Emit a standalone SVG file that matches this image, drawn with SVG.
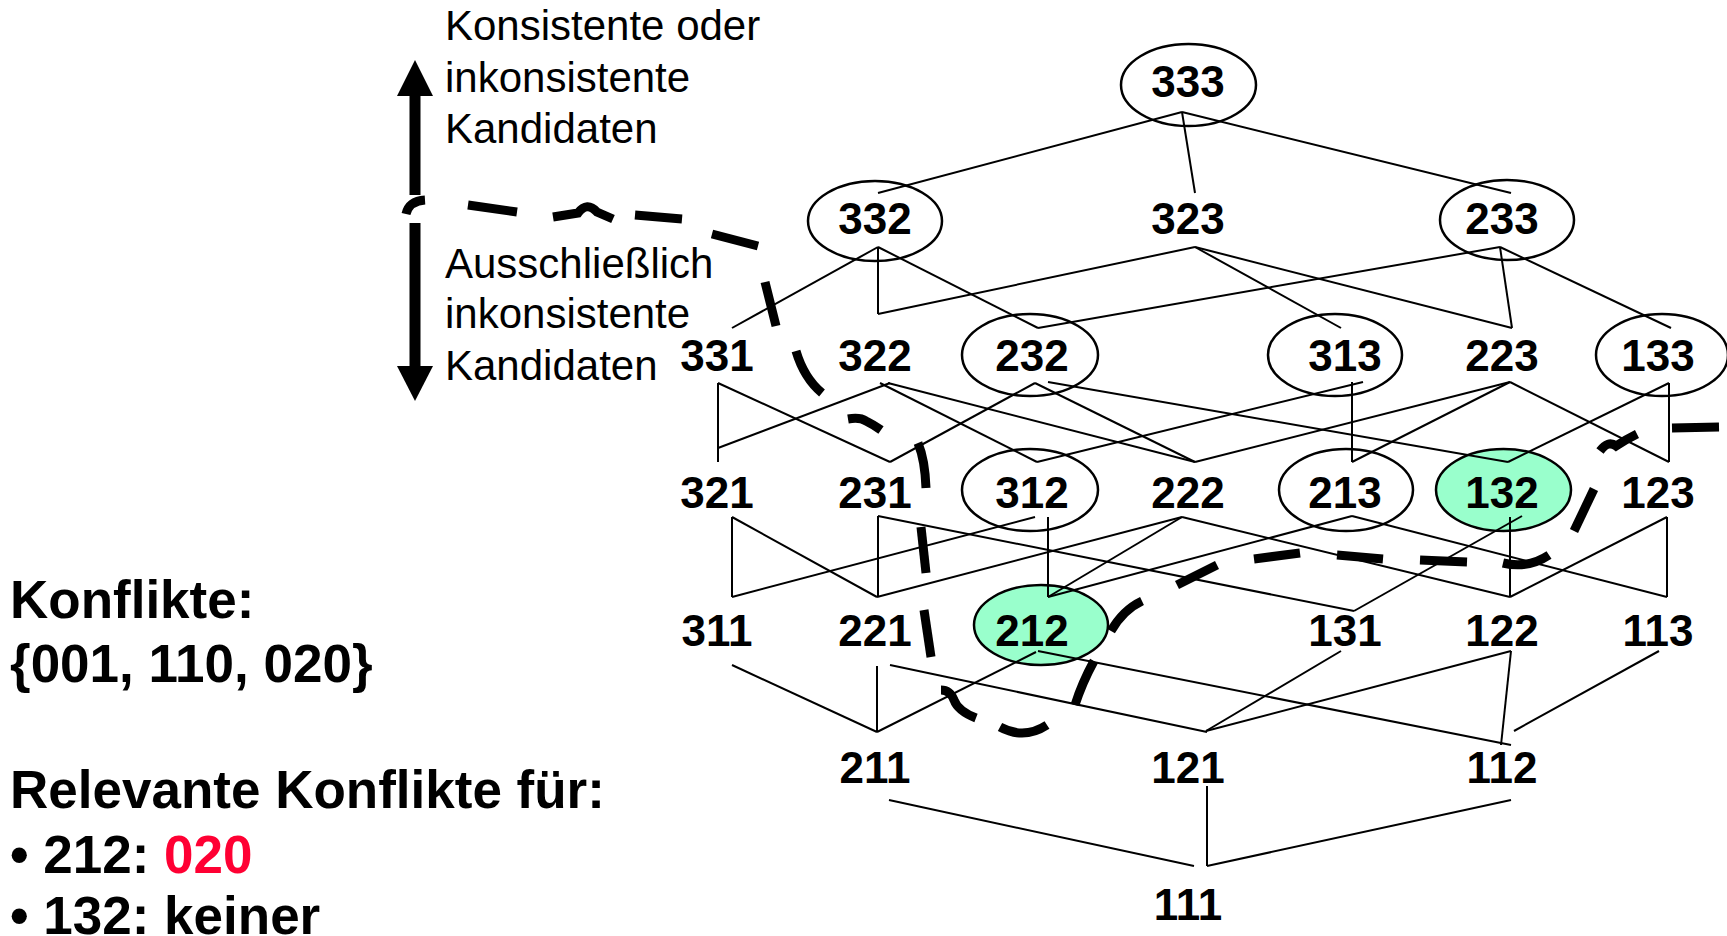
<svg xmlns="http://www.w3.org/2000/svg" width="1727" height="936" viewBox="0 0 1727 936">
<style>
.bg{fill:#FFFFFF}
.n{font-family:"Liberation Sans",Arial,sans-serif;font-weight:bold;font-size:44px;text-anchor:middle;fill:#000}
.ov{fill:none;stroke:#000;stroke-width:2.5}
.hl{fill:#99FFCC;stroke:#000;stroke-width:2.5}
.e{stroke:#000;stroke-width:2;fill:none}
.d{stroke:#000;stroke-width:9;fill:none;stroke-linecap:butt}
.t{font-family:"Liberation Sans",Arial,sans-serif;font-size:42px;fill:#000}
.b{font-family:"Liberation Sans",Arial,sans-serif;font-size:53px;font-weight:bold;fill:#000}
.red{fill:#FF0033}
</style>
<rect class="bg" x="0" y="0" width="1727" height="936"/>

<g id="legend">
<text class="t" x="445" y="40">Konsistente oder</text>
<text class="t" x="445" y="92">inkonsistente</text>
<text class="t" x="445" y="143">Kandidaten</text>
<text class="t" x="445" y="278">Ausschließlich</text>
<text class="t" x="445" y="328">inkonsistente</text>
<text class="t" x="445" y="380">Kandidaten</text>
<rect x="409.5" y="94" width="11" height="101" fill="#000"/>
<polygon points="397,96 415,60 433,96" fill="#000"/>
<rect x="409.5" y="223" width="11" height="145" fill="#000"/>
<polygon points="397,366 415,401 433,366" fill="#000"/>
</g>

<g id="info">
<text class="b" x="10" y="618">Konflikte:</text>
<text class="b" x="10" y="682">{001, 110, 020}</text>
<text class="b" x="10" y="808">Relevante Konflikte für:</text>
<text class="b" x="10" y="873">• 212: <tspan class="red">020</tspan></text>
<text class="b" x="10" y="934">• 132: keiner</text>
</g>

<g id="n333"><ellipse class="ov" cx="1188.5" cy="85" rx="67.5" ry="41"/><text class="n" x="1188" y="97">333</text></g>
<g id="n332"><ellipse class="ov" cx="875" cy="221" rx="67" ry="40"/><text class="n" x="875" y="234">332</text></g>
<g id="n323"><text class="n" x="1188" y="234">323</text></g>
<g id="n233"><ellipse class="ov" cx="1507" cy="220" rx="67" ry="40"/><text class="n" x="1502" y="234">233</text></g>
<g id="n331"><text class="n" x="717" y="371">331</text></g>
<g id="n322"><text class="n" x="875" y="371">322</text></g>
<g id="n232"><ellipse class="ov" cx="1030" cy="355" rx="68" ry="41"/><text class="n" x="1032" y="371">232</text></g>
<g id="n313"><ellipse class="ov" cx="1335" cy="355" rx="67" ry="41"/><text class="n" x="1345" y="371">313</text></g>
<g id="n223"><text class="n" x="1502" y="371">223</text></g>
<g id="n133"><ellipse class="ov" cx="1662" cy="355" rx="66" ry="41"/><text class="n" x="1658" y="371">133</text></g>
<g id="n321"><text class="n" x="717" y="508">321</text></g>
<g id="n231"><text class="n" x="875" y="508">231</text></g>
<g id="n312"><ellipse class="ov" cx="1030" cy="490" rx="68" ry="41"/><text class="n" x="1032" y="508">312</text></g>
<g id="n222"><text class="n" x="1188" y="508">222</text></g>
<g id="n213"><ellipse class="ov" cx="1346" cy="490" rx="67" ry="41"/><text class="n" x="1345" y="508">213</text></g>
<g id="n132"><ellipse class="hl" cx="1503.5" cy="490" rx="67.5" ry="41"/><text class="n" x="1502" y="508">132</text></g>
<g id="n123"><text class="n" x="1658" y="508">123</text></g>
<g id="n311"><text class="n" x="717" y="646">311</text></g>
<g id="n221"><text class="n" x="875" y="646">221</text></g>
<g id="n212"><ellipse class="hl" cx="1041" cy="625" rx="67" ry="40"/><text class="n" x="1032" y="646">212</text></g>
<g id="n131"><text class="n" x="1345" y="646">131</text></g>
<g id="n122"><text class="n" x="1502" y="646">122</text></g>
<g id="n113"><text class="n" x="1658" y="646">113</text></g>
<g id="n211"><text class="n" x="875" y="783">211</text></g>
<g id="n121"><text class="n" x="1188" y="783">121</text></g>
<g id="n112"><text class="n" x="1502" y="783">112</text></g>
<g id="n111"><text class="n" x="1188" y="920">111</text></g>

<g id="connectors" class="e">
<line x1="1182" y1="112" x2="878" y2="193"/>
<line x1="1182" y1="112" x2="1195" y2="193"/>
<line x1="1182" y1="112" x2="1511" y2="193"/>

<line x1="878" y1="247" x2="732" y2="328"/>
<line x1="878" y1="247" x2="878" y2="314"/>
<line x1="878" y1="247" x2="1038" y2="328"/>
<line x1="1195" y1="247" x2="878" y2="314"/>
<line x1="1195" y1="247" x2="1341" y2="328"/>
<line x1="1195" y1="247" x2="1512" y2="328"/>
<line x1="1500" y1="247" x2="1038" y2="328"/>
<line x1="1500" y1="247" x2="1512" y2="328"/>
<line x1="1500" y1="247" x2="1671" y2="328"/>

<line x1="718" y1="383" x2="718" y2="462"/>
<line x1="718" y1="383" x2="890" y2="462"/>
<line x1="890" y1="383" x2="718" y2="448"/>
<line x1="880" y1="383" x2="1037" y2="462"/>
<line x1="888" y1="383" x2="1195" y2="462"/>
<line x1="1035" y1="383" x2="890" y2="462"/>
<line x1="1035" y1="383" x2="1195" y2="462"/>
<line x1="1048" y1="382" x2="1508" y2="462"/>
<line x1="1363" y1="382" x2="1037" y2="462"/>
<line x1="1352" y1="382" x2="1352" y2="462"/>
<line x1="1510" y1="382" x2="1195" y2="462"/>
<line x1="1510" y1="382" x2="1352" y2="462"/>
<line x1="1510" y1="382" x2="1669" y2="462"/>
<line x1="1669" y1="383" x2="1669" y2="462"/>
<line x1="1669" y1="383" x2="1508" y2="462"/>

<line x1="732" y1="517" x2="732" y2="597"/>
<line x1="732" y1="517" x2="877" y2="597"/>
<line x1="878" y1="516" x2="878" y2="597"/>
<line x1="878" y1="516" x2="1354" y2="611"/>
<line x1="1035" y1="517" x2="732" y2="597"/>
<line x1="1048" y1="517" x2="1048" y2="597"/>
<line x1="1182" y1="517" x2="877" y2="597"/>
<line x1="1182" y1="517" x2="1048" y2="597"/>
<line x1="1182" y1="517" x2="1510" y2="597"/>
<line x1="1352" y1="516" x2="1048" y2="597"/>
<line x1="1352" y1="516" x2="1667" y2="597"/>
<line x1="1522" y1="516" x2="1354" y2="611"/>
<line x1="1510" y1="517" x2="1510" y2="597"/>
<line x1="1667" y1="517" x2="1667" y2="597"/>
<line x1="1667" y1="517" x2="1510" y2="597"/>

<line x1="732" y1="665" x2="877" y2="732"/>
<line x1="877" y1="666" x2="877" y2="732"/>
<line x1="890" y1="665" x2="1207" y2="732"/>
<line x1="1036" y1="652" x2="877" y2="732"/>
<line x1="1038" y1="651" x2="1511" y2="745"/>
<line x1="1341" y1="651" x2="1206" y2="731"/>
<line x1="1511" y1="651" x2="1206" y2="731"/>
<line x1="1511" y1="651" x2="1501" y2="745"/>
<line x1="1659" y1="651" x2="1514" y2="731"/>

<line x1="889" y1="800" x2="1194" y2="866"/>
<line x1="1207" y1="786" x2="1207" y2="866"/>
<line x1="1511" y1="800" x2="1207" y2="866"/>
</g>

<g id="boundary" class="d">
<path d="M406,214 Q409,201 425,200"/>
<path d="M468,205 L517,212"/>
<path d="M553,217 L578,213 Q587,201 597,212 L613,219"/>
<path d="M635,215 L682,219"/>
<path d="M712,234 L758,246"/>
<path d="M765,282 L776,326"/>
<path d="M796,351 Q804,378 822,393"/>
<path d="M848,419 Q860,417 866,421 Q874,425 881,430"/>
<path d="M918,443 Q925,460 926,488"/>
<path d="M921,527 L926,573"/>
<path d="M924,610 L931,657"/>
<path d="M941,690 Q950,690 954,700 Q958,711 976,718"/>
<path d="M1000,727 Q1024,740 1047,725"/>
<path d="M1075,705 Q1082,683 1094,661"/>
<path d="M1111,631 Q1123,610 1142,601"/>
<path d="M1177,585 L1217,565"/>
<path d="M1254,559 L1300,553"/>
<path d="M1337,555 L1383,559"/>
<path d="M1420,560 L1467,562"/>
<path d="M1503,563 Q1528,569 1549,555"/>
<path d="M1574,531 L1594,489"/>
<path d="M1600,451 Q1608,440 1616,446 Q1625,440 1637,434"/>
<path d="M1672,428 L1719,427"/>
</g>
</svg>
